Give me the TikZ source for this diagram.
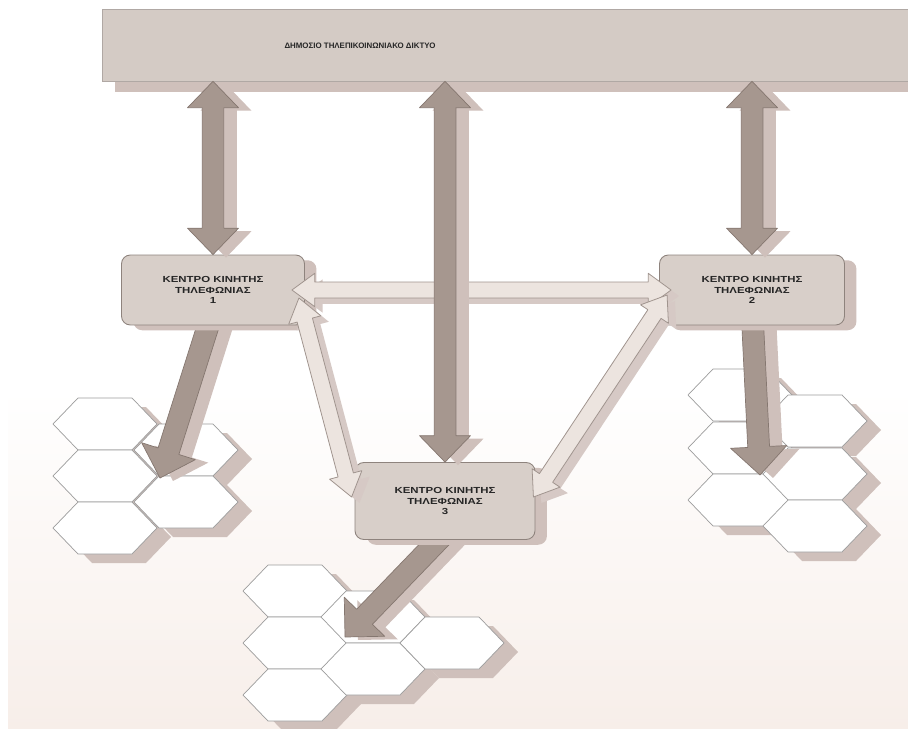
\documentclass[tikz,border=0pt]{standalone}
\usepackage{fontspec}
\setmainfont{Liberation Sans}
\newfontfamily\hubfont{Liberation Sans}[FakeStretch=1.3]
\usetikzlibrary{calc,shadows}

\definecolor{barfill}{HTML}{D4CBC5}
\definecolor{boxfill}{HTML}{D8CFC9}
\definecolor{boxline}{HTML}{8E837D}
\definecolor{darkarrow}{HTML}{A6978F}
\definecolor{darkline}{HTML}{857770}
\definecolor{shade}{HTML}{CFC0BB}
\definecolor{lightarrow}{HTML}{ECE4DF}
\definecolor{lightline}{HTML}{A0948E}
\definecolor{hexline}{HTML}{9C9C9C}
\definecolor{paper}{HTML}{F7EEE9}

\pgfdeclarelayer{bg}
\pgfdeclarelayer{cells}
\pgfdeclarelayer{feeds}
\pgfdeclarelayer{links}
\pgfsetlayers{bg,cells,feeds,main,links}

% double-headed block arrow between #2 and #3
% #4 shaft half width, #5 head half width, #6 head length
\newcommand\blockdouble[6]{%
  \path[#1] (#2) -- ($(#2)!#6!(#3)!#5!90:(#3)$) -- ($(#2)!#6!(#3)!#4!90:(#3)$)
    -- ($(#3)!#6!(#2)!#4!-90:(#2)$) -- ($(#3)!#6!(#2)!#5!-90:(#2)$) -- (#3)
    -- ($(#3)!#6!(#2)!#5!90:(#2)$) -- ($(#3)!#6!(#2)!#4!90:(#2)$)
    -- ($(#2)!#6!(#3)!#4!-90:(#3)$) -- ($(#2)!#6!(#3)!#5!-90:(#3)$) -- cycle;}

% single-headed block arrow from tail #2 to tip #3
\newcommand\blocksingle[6]{%
  \path[#1] ($(#2)!#4!90:(#3)$) -- ($(#3)!#6!(#2)!#4!-90:(#2)$)
    -- ($(#3)!#6!(#2)!#5!-90:(#2)$) -- (#3)
    -- ($(#3)!#6!(#2)!#5!90:(#2)$) -- ($(#3)!#6!(#2)!#4!90:(#2)$)
    -- ($(#2)!#4!-90:(#3)$) -- cycle;}

% flattened hexagonal radio cell centred at #2
\newcommand\hexcell[2]{%
  \path[#1] (#2) +(-52,0) -- +(-27,-26) -- +(27,-26) -- +(52,0)
    -- +(27,26) -- +(-27,26) -- cycle;}

\tikzset{
  cell/.style={fill=white, draw=hexline, line width=0.4pt},
  cellshade/.style={fill=shade, shift={(14,9)}},
  netbar/.style={rectangle, fill=barfill, draw=boxline!70, line width=0.4pt,
    minimum width=16.24cm, minimum height=1.44cm, inner sep=0pt,
    drop shadow={shadow xshift=7.4pt, shadow yshift=-6.2pt, fill=shade, opacity=1}},
  nettext/.style={font=\bfseries\fontsize{4.5}{5}\selectfont, text=black!85},
  hub/.style={rectangle, rounded corners=5pt, fill=boxfill, draw=boxline,
    line width=0.5pt, align=center, inner sep=0pt, text=black!85,
    font=\hubfont\bfseries\fontsize{5}{5.8}\selectfont,
    drop shadow={shadow xshift=6.8pt, shadow yshift=-3pt, fill=shade, opacity=1}},
  heavy/.style={fill=darkarrow, draw=darkline, line width=0.4pt, line join=round},
  heavyshade/.style={fill=shade},
  light/.style={fill=lightarrow, draw=lightline, line width=0.45pt, line join=round},
  lightshade/.style={fill=shade!85},
}

\begin{document}
\begin{tikzpicture}[x=0.02cm, y=-0.02cm]
\useasboundingbox (0,0) rectangle (908,729);

% paper
\begin{pgfonlayer}{bg}
  \fill[white] (0,0) rectangle (908,729);
  \shade[top color=white, bottom color=paper] (8,390) rectangle (908,729);
\end{pgfonlayer}

% cell clusters
\begin{pgfonlayer}{cells}
  \foreach \p in {{105,424},{105,476},{105,528},{186,450},{186,502},
                  {740,395},{740,448},{740,500},{815,421},{815,474},{815,526},
                  {295,591},{295,643},{295,695},{373,617},{373,669},{452,643}}
    \hexcell{cellshade}{\p};
  \foreach \p in {{105,424},{105,476},{105,528},{186,450},{186,502},
                  {740,395},{740,448},{740,500},{815,421},{815,474},{815,526},
                  {295,591},{295,643},{295,695},{373,617},{373,669},{452,643}}
    \hexcell{cell}{\p};
\end{pgfonlayer}

% network and switching centres
\node[netbar] (net) at (508,45) {};
\node[nettext] (nettext) at (360,46) {ΔΗΜΟΣΙΟ ΤΗΛΕΠΙΚΟΙΝΩΝΙΑΚΟ ΔΙΚΤΥΟ};
\node[hub, minimum width=3.66cm, minimum height=1.4cm] (c1) at (213,290)
  {ΚΕΝΤΡΟ ΚΙΝΗΤΗΣ\\ΤΗΛΕΦΩΝΙΑΣ\\1};
\node[hub, minimum width=3.7cm, minimum height=1.4cm] (c2) at (752,290)
  {ΚΕΝΤΡΟ ΚΙΝΗΤΗΣ\\ΤΗΛΕΦΩΝΙΑΣ\\2};
\node[hub, minimum width=3.6cm, minimum height=1.54cm] (c3) at (445,501)
  {ΚΕΝΤΡΟ ΚΙΝΗΤΗΣ\\ΤΗΛΕΦΩΝΙΑΣ\\3};

% anchor points of the connectors
\coordinate (t1) at ($(c1.south)+(0,-15)$);
\coordinate (t2) at ($(c2.south)+(0,-15)$);
\coordinate (t3) at ($(c3.south)+(8,-15)$);
\coordinate (f1) at (160,478);
\coordinate (f2) at (760,475);
\coordinate (f3) at (345,637);
\coordinate (v1) at (c1.north |- net.south);
\coordinate (v2) at (c3.north |- net.south);
\coordinate (v3) at (c2.north |- net.south);
\coordinate (l1a) at ($(c1.east)+(-13,0)$);
\coordinate (l2a) at ($(c2.west)+(12,0)$);
\coordinate (l1b) at ($(c1.east)+(-6,8)$);
\coordinate (l3a) at ($(c3.west)+(-3,-4)$);
\coordinate (l2b) at ($(c2.west)+(8,5)$);
\coordinate (l3b) at ($(c3.east)+(-2,-4)$);

% feeds from each centre down to its cells
\begin{pgfonlayer}{feeds}
  \begin{scope}[transform canvas={xshift=7.4pt, yshift=-1.7pt}]
    \blocksingle{heavyshade}{t1}{f1}{6.2pt}{16pt}{16pt}
    \blocksingle{heavyshade}{t2}{f2}{6.2pt}{16pt}{16pt}
    \blocksingle{heavyshade}{t3}{f3}{6.2pt}{16pt}{16pt}
  \end{scope}
  \blocksingle{heavy}{t1}{f1}{6.2pt}{16pt}{16pt}
  \blocksingle{heavy}{t2}{f2}{6.2pt}{16pt}{16pt}
  \blocksingle{heavy}{t3}{f3}{6.2pt}{16pt}{16pt}
\end{pgfonlayer}

\begin{pgfonlayer}{links}
  % links between the centres
  \begin{scope}[transform canvas={xshift=4.5pt, yshift=-3.4pt}]
    \blockdouble{lightshade}{l1a}{l2a}{4.5pt}{9.5pt}{13pt}
    \blockdouble{lightshade}{l1b}{l3a}{4.5pt}{9.5pt}{13pt}
    \blockdouble{lightshade}{l2b}{l3b}{4.5pt}{9.5pt}{13pt}
  \end{scope}
  \blockdouble{light}{l1a}{l2a}{4.5pt}{9.5pt}{13pt}
  \blockdouble{light}{l1b}{l3a}{4.5pt}{9.5pt}{13pt}
  \blockdouble{light}{l2b}{l3b}{4.5pt}{9.5pt}{13pt}
  % links to the public network
  \begin{scope}[transform canvas={xshift=7.4pt, yshift=-1.7pt}]
    \blockdouble{heavyshade}{v1}{c1.north}{6.2pt}{14.5pt}{15pt}
    \blockdouble{heavyshade}{v2}{c3.north}{6.2pt}{14.5pt}{15pt}
    \blockdouble{heavyshade}{v3}{c2.north}{6.2pt}{14.5pt}{15pt}
  \end{scope}
  \blockdouble{heavy}{v1}{c1.north}{6.2pt}{14.5pt}{15pt}
  \blockdouble{heavy}{v2}{c3.north}{6.2pt}{14.5pt}{15pt}
  \blockdouble{heavy}{v3}{c2.north}{6.2pt}{14.5pt}{15pt}
\end{pgfonlayer}
\end{tikzpicture}
\end{document}
